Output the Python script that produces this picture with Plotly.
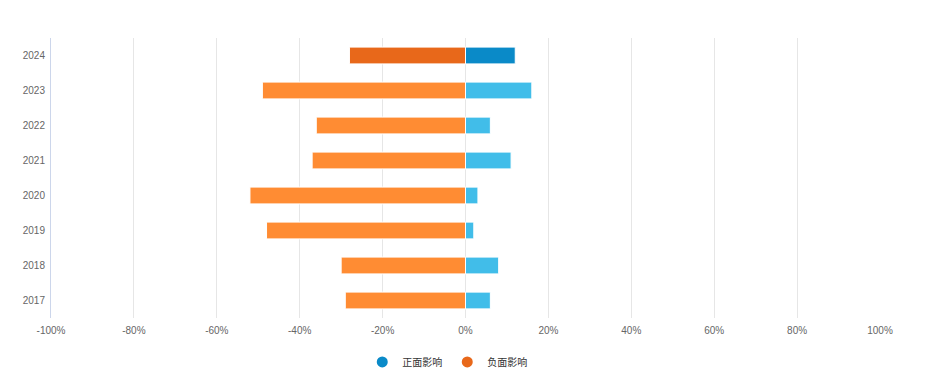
import plotly.graph_objects as go

years = ["2017", "2018", "2019", "2020", "2021", "2022", "2023", "2024"]
positive = [6, 8, 2, 3, 11, 6, 16, 12]
negative = [-29, -30, -48, -52, -37, -36, -49, -28]
x_ticks = [-100, -80, -60, -40, -20, 0, 20, 40, 60, 80, 100]
x_tick_labels = [f"{v}%" for v in x_ticks]
series_names = ["正面影响", "负面影响"]

pos_light, pos_dark = "#41bde9", "#0a8ac8"
neg_light, neg_dark = "#ff8c33", "#e8681a"
pos_colors = [pos_dark if y == "2024" else pos_light for y in years]
neg_colors = [neg_dark if y == "2024" else neg_light for y in years]

fig = go.Figure()
fig.add_trace(go.Bar(y=years, x=positive, orientation="h", marker=dict(color=pos_colors, line=dict(color="white", width=1)),
                     width=0.48, showlegend=False, name=series_names[0]))
fig.add_trace(go.Bar(y=years, x=negative, orientation="h", marker=dict(color=neg_colors, line=dict(color="white", width=1)),
                     width=0.48, showlegend=False, name=series_names[1]))
# legend entries with circle markers
fig.add_trace(go.Scatter(x=[None], y=[None], mode="markers", name=series_names[0],
                         marker=dict(symbol="circle", size=11, color=pos_dark)))
fig.add_trace(go.Scatter(x=[None], y=[None], mode="markers", name=series_names[1],
                         marker=dict(symbol="circle", size=11, color=neg_dark)))

fig.update_layout(
    width=922, height=377,
    margin=dict(l=43, r=50, t=30, b=67, autoexpand=False),
    paper_bgcolor="white", plot_bgcolor="white",
    barmode="relative",
    font=dict(family="Liberation Sans, Arial, Noto Sans CJK SC", size=10, color="#666666"),
    legend=dict(orientation="h", x=0.478, xanchor="center", y=-0.157, yanchor="middle",
                font=dict(family="Noto Sans CJK SC, Liberation Sans", size=10, color="#333333")),
    xaxis=dict(range=[-100, 100], tickvals=x_ticks, ticktext=x_tick_labels, showgrid=True,
               gridcolor="#e6e6e6", gridwidth=1, zeroline=False, showline=False, ticks="",
               ticklabelstandoff=5,
               tickfont=dict(size=10, color="#666666"), fixedrange=True, automargin=False),
    yaxis=dict(type="category", categoryorder="array", categoryarray=years, showgrid=False,
               zeroline=False, showline=True, linecolor="#ccd6eb", linewidth=1, ticks="",
               ticklabelstandoff=3, tickfont=dict(size=10, color="#666666"), automargin=False),
)
fig.write_html("out.html")
